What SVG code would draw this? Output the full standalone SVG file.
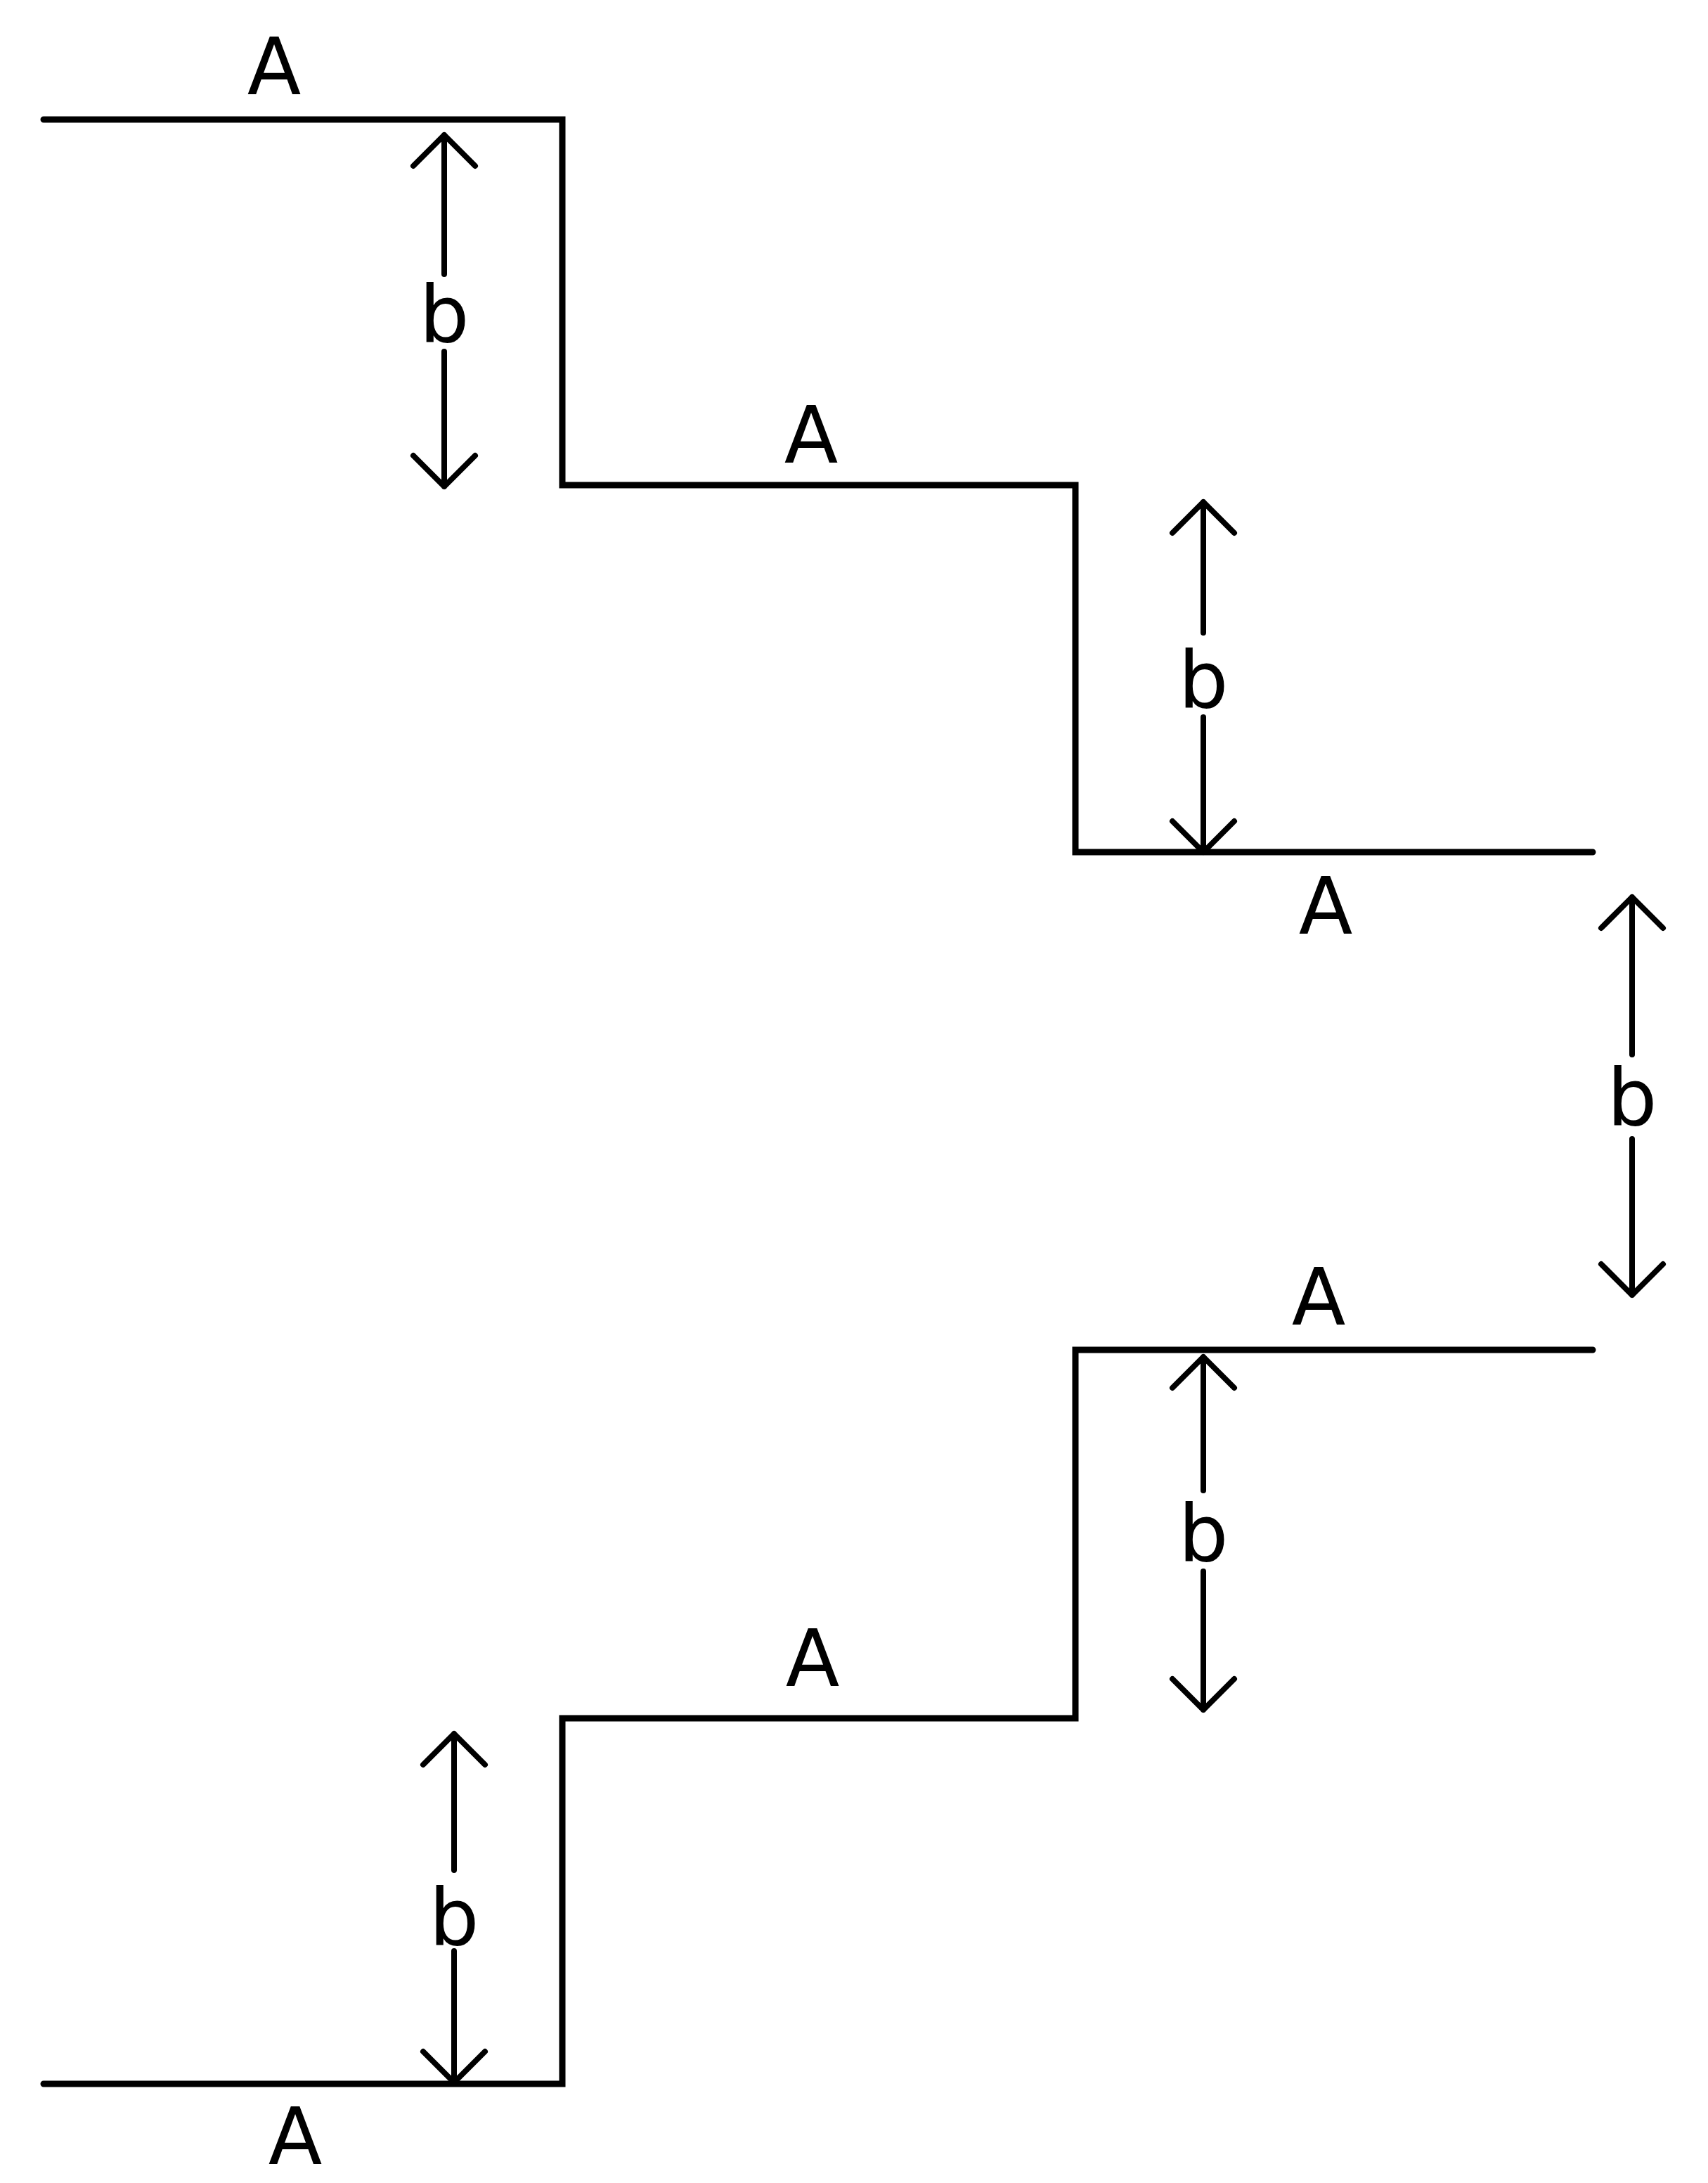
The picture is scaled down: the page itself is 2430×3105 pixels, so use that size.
<svg xmlns="http://www.w3.org/2000/svg" width="2430" height="3105" viewBox="0 0 2430 3105">
<style>
.l{fill:none;stroke:#000;stroke-width:9;stroke-linecap:round;stroke-linejoin:miter}
.a{fill:none;stroke:#000;stroke-width:8;stroke-linecap:round;stroke-linejoin:round}
text{font-family:"DejaVu Sans","Liberation Sans",sans-serif;font-size:112px;fill:#000;text-anchor:middle}
</style>
<rect width="2430" height="3105" fill="#fff"/>
<g id="steps">
<path class="l" d="M62 170 H800 V690 H1530 V1212 H2266"/>
<path class="l" d="M62 2964 H800 V2444 H1530 V1920 H2266"/>
</g>
<g id="connectors">
<path class="a" d="M632 192 V390 M632 500 V692 M588 236 L632 192 L676 236 M588 648 L632 692 L676 648"/>
<path class="a" d="M1712 714 V900 M1712 1020 V1212 M1668 758 L1712 714 L1756 758 M1668 1168 L1712 1212 L1756 1168"/>
<path class="a" d="M2322 1276 V1500 M2322 1620 V1842 M2278 1320 L2322 1276 L2366 1320 M2278 1798 L2322 1842 L2366 1798"/>
<path class="a" d="M1712 1930 V2120 M1712 2235 V2432 M1668 1974 L1712 1930 L1756 1974 M1668 2388 L1712 2432 L1756 2388"/>
<path class="a" d="M646 2466 V2660 M646 2775 V2962 M602 2510 L646 2466 L690 2510 M602 2918 L646 2962 L690 2918"/>
</g>
<g id="labels">
<text x="390" y="134">A</text>
<text x="1154" y="658">A</text>
<text x="1886" y="1328">A</text>
<text x="1876" y="1884">A</text>
<text x="1156" y="2398">A</text>
<text x="420" y="3078">A</text>
<text x="632" y="486">b</text>
<text x="1712" y="1006">b</text>
<text x="2322" y="1600">b</text>
<text x="1712" y="2220">b</text>
<text x="646" y="2766">b</text>
</g>
</svg>
